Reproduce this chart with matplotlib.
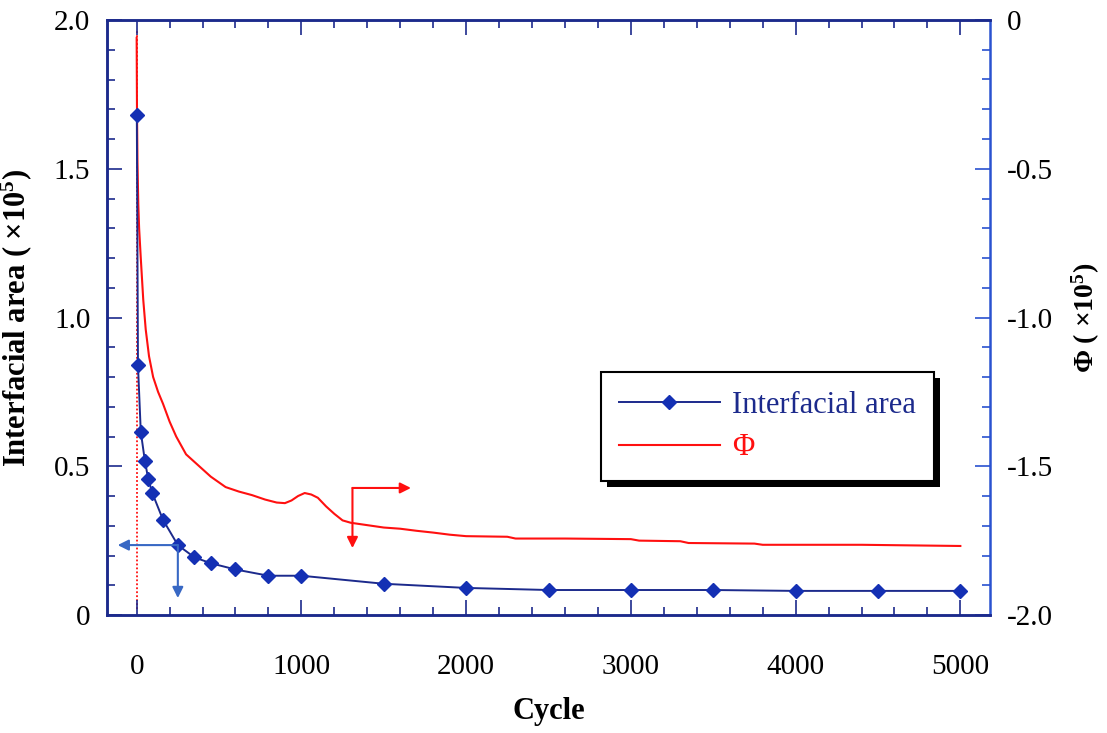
import numpy as np
import matplotlib
matplotlib.use('Agg')
import matplotlib.pyplot as plt
from matplotlib.ticker import MultipleLocator, FuncFormatter
from matplotlib.patches import Rectangle

plt.rcParams['font.family'] = 'Liberation Serif'
plt.rcParams['mathtext.fontset'] = 'custom'
plt.rcParams['mathtext.rm'] = 'Liberation Serif'
plt.rcParams['mathtext.bf'] = 'Liberation Serif:bold'
plt.rcParams['axes.unicode_minus'] = False

# interfacial area (x1e5) against cycle
area_cycle = [1, 8, 25, 50, 70, 95, 160, 250, 350, 450, 600, 800, 1000,
              1500, 2000, 2500, 3000, 3500, 4000, 4500, 5000]
area = [1.68, 0.84, 0.616, 0.518, 0.458, 0.41, 0.32, 0.235, 0.194, 0.174,
        0.153, 0.132, 0.132, 0.105, 0.091, 0.084, 0.084, 0.084, 0.081,
        0.081, 0.081]

# Phi (x1e5) against cycle
phi_cycle = [0, 2, 5, 10, 15, 25, 40, 55, 75, 100, 130, 160, 200, 240, 300,
             380, 450, 540, 620, 700, 780, 850, 900, 940, 980, 1020, 1060,
             1100, 1150, 1200, 1250, 1300, 1400, 1500, 1600, 1700, 1800,
             1900, 2000, 2250, 2300, 2600, 3000, 3050, 3300, 3350, 3750,
             3800, 4400, 4700, 5000]
phi = [-0.06, -0.30, -0.48, -0.62, -0.70, -0.80, -0.94, -1.04, -1.13, -1.20,
       -1.25, -1.29, -1.35, -1.40, -1.46, -1.50, -1.535, -1.57, -1.585,
       -1.597, -1.612, -1.622, -1.624, -1.615, -1.600, -1.590, -1.595,
       -1.606, -1.635, -1.660, -1.682, -1.690, -1.698, -1.706, -1.710,
       -1.717, -1.723, -1.730, -1.735, -1.737, -1.743, -1.743, -1.745,
       -1.750, -1.752, -1.758, -1.760, -1.764, -1.764, -1.766, -1.768]

# dotted start-up trace of Phi at cycle 0
phi0_cycle = [0, 0]
phi0 = [-1.98, -0.03]

# arrow pointing each curve to its axis: (corner, tip1, tip2)
area_arrow = [(250, 0.235), (-115, 0.235), (250, 0.057)]
phi_arrow = [(1310, -1.573), (1665, -1.573), (1310, -1.775)]

navy = '#1c2a8c'
blue = '#1430b4'
red = '#ff1010'

fig = plt.figure(figsize=(11.07, 7.33), dpi=100)
ax = fig.add_axes([107/1107, 1-615/733, 883/1107, 595/733])
ax2 = ax.twinx()
ax.set_zorder(ax2.get_zorder()+1)
ax.patch.set_visible(False)

l1, = ax.plot(area_cycle, area, color=navy, lw=1.4, marker='D', ms=7.5,
              mfc=blue, mec=blue, label='Interfacial area')
l2, = ax2.plot(phi_cycle, phi, color=red, lw=1.5, label=r'$\Phi$')
ax2.plot(phi0_cycle, phi0, color=red, lw=1.3, ls=(0, (1, 1.2)))

for a, arr, col in [(ax, area_arrow, '#3868c4'), (ax2, phi_arrow, red)]:
    c, t1, t2 = arr
    for t in (t1, t2):
        a.annotate('', xy=t, xytext=c,
                   arrowprops=dict(arrowstyle='-|>', color=col, lw=1.5,
                                   mutation_scale=16, shrinkA=0, shrinkB=0))

ax.set_xlim(-180, 5180)
ax.set_ylim(0, 2.0)
ax2.set_ylim(-2.0, 0)

ax.xaxis.set_major_locator(MultipleLocator(1000))
ax.xaxis.set_minor_locator(MultipleLocator(200))
ax.yaxis.set_major_locator(MultipleLocator(0.5))
ax.yaxis.set_minor_locator(MultipleLocator(0.1))
ax2.yaxis.set_major_locator(MultipleLocator(0.5))
ax2.yaxis.set_minor_locator(MultipleLocator(0.1))

fmt = FuncFormatter(lambda v, p: '0' if abs(v) < 1e-9 else '%.1f' % v)
ax.yaxis.set_major_formatter(fmt)
ax2.yaxis.set_major_formatter(fmt)
ax.xaxis.set_major_formatter(FuncFormatter(lambda v, p: '%d' % v))

ax.tick_params(axis='both', which='both', direction='in', colors=navy,
               labelcolor='black', labelsize=21, top=True)
ax.tick_params(which='major', length=11, width=1.2)
ax.tick_params(which='minor', length=6, width=1.2)
ax.tick_params(axis='x', pad=28)
ax.tick_params(axis='y', pad=12)
ax2.tick_params(axis='y', which='both', direction='in', colors='#2a52d0',
                labelcolor='black', labelsize=21, pad=12)
ax2.tick_params(which='major', length=11, width=1.2)
ax2.tick_params(which='minor', length=6, width=1.2)

for s in ['left', 'bottom', 'top']:
    ax.spines[s].set_color(navy)
    ax.spines[s].set_linewidth(1.8)
    ax2.spines[s].set_color(navy)
    ax2.spines[s].set_linewidth(1.8)
ax2.spines['right'].set_color('#2a52d0')
ax2.spines['right'].set_linewidth(1.8)
ax.spines['right'].set_visible(False)

ax.set_xlabel('Cycle', fontsize=22, fontweight='bold', labelpad=12)
ax.set_ylabel(r'Interfacial area ( $\mathbf{\times 10^5}$)', fontsize=22,
              fontweight='bold', labelpad=14)
ax2.set_ylabel(r'$\mathbf{\Phi}$ ( $\mathbf{\times 10^5}$)', fontsize=20,
               fontweight='bold', labelpad=12, rotation=90)

leg = ax.legend([l1, l2], ['Interfacial area', r'$\Phi$'], loc='upper left',
                bbox_to_anchor=(0.559, 0.408), borderaxespad=0, fontsize=22,
                frameon=True, fancybox=False, edgecolor='black',
                framealpha=1, facecolor='white',
                handlelength=3.3, handletextpad=0.4, labelspacing=0.45,
                borderpad=0.6)
leg.get_frame().set_linewidth(1.5)
leg.get_texts()[0].set_color(navy)
leg.get_texts()[1].set_color(red)

# hard black drop shadow behind the legend box
fig.canvas.draw()
bb = leg.get_window_extent()
shadow = Rectangle((bb.x0+6, bb.y0-6), bb.width, bb.height,
                   transform=None, facecolor='black', edgecolor='none')
ax.add_artist(shadow)
shadow.set_zorder(4)
leg.set_zorder(5)

fig.savefig('out.png', dpi=100)
